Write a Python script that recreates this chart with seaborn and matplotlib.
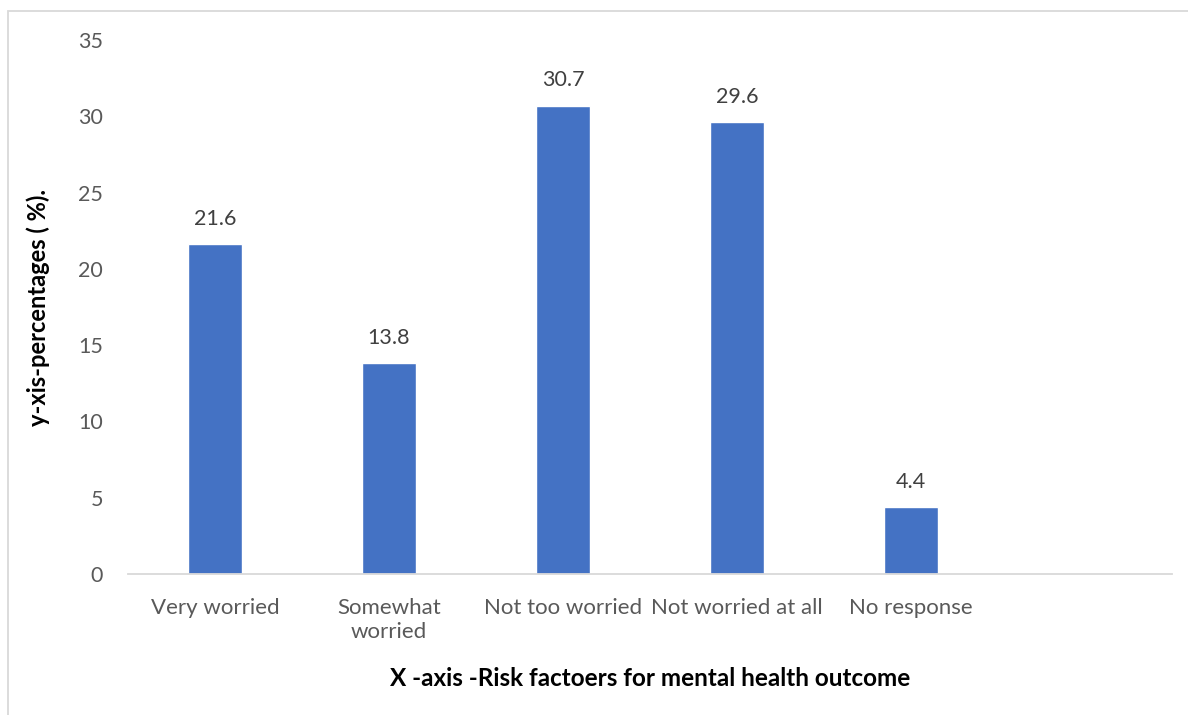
import matplotlib
matplotlib.use("Agg")
import matplotlib.pyplot as plt
import matplotlib.patches as mpatches
import seaborn as sns
import pandas as pd

categories = ["Very worried", "Somewhat\nworried", "Not too worried", "Not worried at all", "No response"]
percentages = [21.6, 13.8, 30.7, 29.6, 4.4]
y_ticks = [0, 5, 10, 15, 20, 25, 30, 35]

sns.set_theme(style="white")
plt.rcParams["font.family"] = ["Lato", "DejaVu Sans"]

W, H = 1188, 715
fig = plt.figure(figsize=(W / 100, H / 100), dpi=100)
ax = fig.add_axes([128 / W, 1 - 574 / H, (1172 - 128) / W, (574 - 40) / H])

df = pd.DataFrame({"category": categories, "value": percentages})
sns.barplot(data=df, x="category", y="value", color="#4472C4", width=0.316,
            saturation=1, ax=ax)

for i, v in enumerate(percentages):
    ax.text(i, v + 1.0, f"{v}", ha="center", va="bottom", fontsize=15.5, color="#404040")

ax.set_xlim(-0.5, 5.5)
ax.set_ylim(0, 35)
ax.set_yticks(y_ticks)
ax.set_yticklabels([str(t) for t in y_ticks], fontsize=15.5, color="#595959")
ax.set_xticks(range(len(categories)))
ax.set_xticklabels(categories, fontsize=16, color="#595959", linespacing=1.3)
ax.tick_params(axis="both", length=0)
ax.tick_params(axis="y", pad=18)
ax.tick_params(axis="x", pad=17)

for side in ["top", "right", "left"]:
    ax.spines[side].set_visible(False)
ax.spines["bottom"].set_color("#D9D9D9")
ax.spines["bottom"].set_linewidth(1.3)

ax.set_ylabel("y-xis-percentages ( %).", fontsize=17, fontweight="bold", color="black", labelpad=20)
ax.set_xlabel("X -axis -Risk factoers for mental health outcome", fontsize=17.5, fontweight="bold",
              color="black", labelpad=18)

# chart area frame
frame = mpatches.Rectangle((8 / W, -0.1), 1.2, 1 - 11 / H + 0.1, transform=fig.transFigure,
                           fill=False, edgecolor="#D9D9D9", linewidth=1.3)
fig.patches.append(frame)

fig.savefig("out.png", dpi=100)
